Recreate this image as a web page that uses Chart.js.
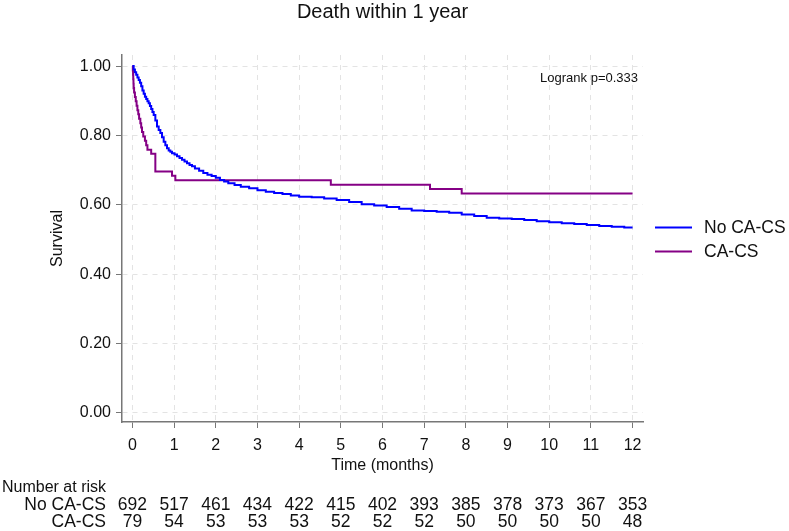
<!DOCTYPE html>
<html>
<head>
<meta charset="utf-8">
<script src="https://cdn.jsdelivr.net/npm/chart.js@4"></script>
<style>
  body { margin: 0; background: #fff; }
</style>
</head>
<body>
<canvas id="km" width="789" height="531"></canvas>
<script>
// survival curves (time in months, survival)
let noCaTime = [0, 0.03, 0.06, 0.09, 0.12, 0.15, 0.18, 0.21, 0.24, 0.27, 0.3, 0.33, 0.36, 0.39, 0.42, 0.45, 0.48, 0.51, 0.55, 0.59,
  0.63, 0.67, 0.71, 0.75, 0.79, 0.83, 0.87, 0.91, 0.95, 1.01, 1.07, 1.13, 1.19, 1.25, 1.31, 1.37, 1.43, 1.5, 1.6, 1.7, 1.8, 1.9,
  2.0, 2.1, 2.2, 2.3, 2.45, 2.6, 2.8, 3.0, 3.2, 3.4, 3.6, 3.8, 4.0, 4.3, 4.6, 4.9, 5.2, 5.5, 5.8, 6.1, 6.4,
  6.7, 7.0, 7.3, 7.6, 7.9, 8.2, 8.5, 8.8, 9.1, 9.4, 9.7, 10.0, 10.3, 10.6, 10.9, 11.2, 11.5, 11.8, 12.0];
let noCaSurv = [1, 0.99, 0.982, 0.975, 0.967, 0.96, 0.952, 0.942, 0.93, 0.92, 0.912, 0.905, 0.899, 0.893, 0.885, 0.876, 0.868, 0.859, 0.843, 0.826,
  0.816, 0.807, 0.795, 0.782, 0.772, 0.763, 0.757, 0.753, 0.749, 0.745, 0.74, 0.735, 0.73, 0.725, 0.72, 0.715, 0.711, 0.705, 0.698, 0.692, 0.687, 0.683,
  0.678, 0.672, 0.667, 0.662, 0.657, 0.652, 0.648, 0.642, 0.638, 0.634, 0.631, 0.627, 0.623, 0.622, 0.618, 0.614, 0.608, 0.602, 0.598, 0.594, 0.589,
  0.584, 0.582, 0.58, 0.577, 0.572, 0.568, 0.563, 0.561, 0.559, 0.556, 0.553, 0.55, 0.547, 0.545, 0.542, 0.539, 0.537, 0.535, 0.535];

let caTime = [0, 0.01, 0.015, 0.02, 0.025, 0.03, 0.04, 0.06, 0.08, 0.1, 0.12, 0.14, 0.16, 0.19, 0.21, 0.23, 0.26, 0.3, 0.33, 0.36, 0.45,
  0.55, 0.95, 1.03, 4.76, 7.14, 7.9, 12];
let caSurv = [1, 0.987, 0.975, 0.962, 0.949, 0.937, 0.924, 0.911, 0.899, 0.886, 0.873, 0.861, 0.848, 0.835, 0.823, 0.81, 0.797, 0.785, 0.772, 0.759, 0.747,
  0.696, 0.684, 0.671, 0.658, 0.646, 0.633, 0.633];

let xTicks = [0, 1, 2, 3, 4, 5, 6, 7, 8, 9, 10, 11, 12];
let yTicks = [0, 0.2, 0.4, 0.6, 0.8, 1.0];

let riskNoCa = [692, 517, 461, 434, 422, 415, 402, 393, 385, 378, 373, 367, 353];
let riskCa = [79, 54, 53, 53, 53, 52, 52, 52, 50, 50, 50, 50, 48];

const FONT = 'Arial, "Liberation Sans", sans-serif';
const TXT = '#111';
const BLUE = '#0000ff';
const PURPLE = '#850085';

const extras = {
  id: 'extras',
  afterDraw(chart) {
    const ctx = chart.ctx;
    const xs = chart.scales.x;
    const area = chart.chartArea;
    ctx.save();
    ctx.fillStyle = TXT;

    // title, centred over the plot region
    ctx.font = '20px ' + FONT;
    ctx.textAlign = 'center';
    ctx.textBaseline = 'middle';
    ctx.fillText('Death within 1 year', (area.left + area.right) / 2, 12);

    // logrank
    ctx.font = '13px ' + FONT;
    ctx.textAlign = 'right';
    ctx.fillText('Logrank p=0.333', 638, 78);

    // legend
    const leg = [['No CA-CS', BLUE, 227.5], ['CA-CS', PURPLE, 251.5]];
    ctx.font = '17.5px ' + FONT;
    ctx.textAlign = 'left';
    leg.forEach(l => {
      ctx.strokeStyle = l[1];
      ctx.lineWidth = 2;
      ctx.beginPath();
      ctx.moveTo(655, l[2]);
      ctx.lineTo(692, l[2]);
      ctx.stroke();
      ctx.fillText(l[0], 704, l[2] + 1);
    });

    // number at risk table
    ctx.font = '16px ' + FONT;
    ctx.textAlign = 'left';
    ctx.fillText('Number at risk', 2, 487.5);
    ctx.font = '17.5px ' + FONT;
    ctx.textAlign = 'right';
    ctx.fillText('No CA-CS', 106, 505);
    ctx.fillText('CA-CS', 106, 522.5);
    ctx.textAlign = 'center';
    xTicks.forEach((t, i) => {
      const px = xs.getPixelForValue(t);
      ctx.fillText(riskNoCa[i], px, 505);
      ctx.fillText(riskCa[i], px, 522.5);
    });
    ctx.restore();
  }
};

const km = document.getElementById('km').getContext('2d');
const kmChart = new Chart(km, {
  type: 'line',
  data: {
    datasets: [
      {
        label: 'No CA-CS',
        data: noCaTime.map((t, i) => ({x: t, y: noCaSurv[i]})),
        borderColor: BLUE,
        borderWidth: 2,
        pointRadius: 0,
        stepped: true,
        fill: false
      },
      {
        label: 'CA-CS',
        data: caTime.map((t, i) => ({x: t, y: caSurv[i]})),
        borderColor: PURPLE,
        borderWidth: 2,
        pointRadius: 0,
        stepped: true,
        fill: false
      }
    ]
  },
  options: {
    responsive: false,
    animation: false,
    layout: {
      padding: {left: 0, right: 146, top: 55, bottom: 53}
    },
    scales: {
      x: {
        type: 'linear',
        min: -0.25,
        max: 12.25,
        afterBuildTicks: s => { s.ticks = xTicks.map(v => ({value: v})); },
        afterFit: s => { s.height = 56; },
        ticks: {
          font: {family: FONT, size: 16},
          color: TXT,
          padding: 8,
          maxRotation: 0,
          autoSkip: false
        },
        grid: {color: '#e3e3e3', tickColor: '#777', tickLength: 6},
        border: {color: '#777', width: 1.5, dash: [5, 5]},
        title: {
          display: true,
          text: 'Time (months)',
          font: {family: FONT, size: 16},
          color: TXT,
          padding: {top: 0, bottom: 3}
        }
      },
      y: {
        min: -0.026,
        max: 1.032,
        afterBuildTicks: s => { s.ticks = yTicks.map(v => ({value: v})); },
        afterFit: s => { s.width = 122; },
        ticks: {
          font: {family: FONT, size: 16},
          color: TXT,
          padding: 5,
          callback: v => v.toFixed(2)
        },
        grid: {color: '#e3e3e3', tickColor: '#777', tickLength: 6},
        border: {color: '#777', width: 1.5, dash: [5, 5]},
        title: {
          display: true,
          text: 'Survival',
          font: {family: FONT, size: 16},
          color: TXT,
          padding: {top: 48, bottom: 0}
        }
      }
    },
    plugins: {
      legend: {display: false},
      tooltip: {enabled: false}
    }
  },
  plugins: [extras]
});
</script>
</body>
</html>
